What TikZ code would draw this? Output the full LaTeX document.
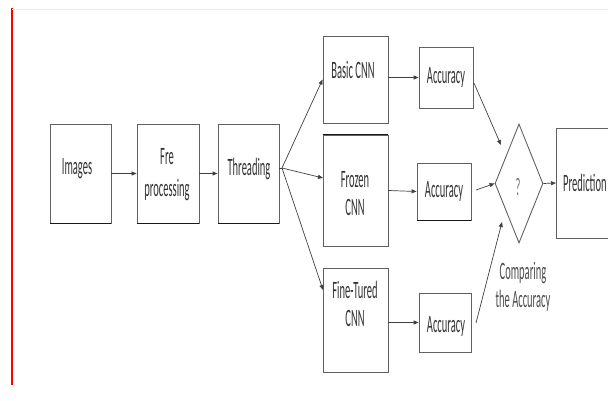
\documentclass[tikz,border=0pt]{standalone}
\usepackage{fontspec}
\setmainfont{Carlito}[FakeStretch=0.42]
\usetikzlibrary{arrows.meta,shapes.geometric}
\begin{document}
\begin{tikzpicture}[x=1pt,y=-1pt,
  box/.style={draw=black!62,line width=0.9pt,fill=white,inner sep=0pt,align=center,font=\fontsize{25}{28}\selectfont,text=black!80},
  edge/.style={draw=black!90,line width=1.4pt},
  conn/.style={draw=black!75,line width=0.7pt,-{Triangle[length=5pt,width=4pt]}},
  lbl/.style={align=center,inner sep=0pt,font=\fontsize{25}{28}\selectfont,text=black!80}]
\useasboundingbox (0,0) rectangle (608,401);
\draw[red,line width=1.2pt] (12,8) -- (12,385);
\draw[black!8,line width=0.6pt] (12,9) -- (608,9);
% boxes
\node[box,minimum width=61pt,minimum height=99pt] (img) at (80.5,173.5) {};
\node[lbl] (imgt) at (77,169) {Images};
\node[box,minimum width=62pt,minimum height=99pt] (pre) at (168,173.5) {};
\node[lbl,font=\fontsize{25}{32}\selectfont] (pret) at (167,175) {Fre\\processing};
\node[box,minimum width=61pt,minimum height=99pt] (thr) at (248.5,173.5) {};
\node[lbl] (thrt) at (249,169) {Threading};
\node[box,minimum width=65pt,minimum height=87pt] (basic) at (355.5,79.5) {};
\node[lbl] (basict) at (353,70) {Basic CNN};
\node[box,minimum width=65pt,minimum height=111pt] (frozen) at (355.5,190.5) {};
\node[lbl] (frozent) at (355,194) {Frozen\\CNN};
\node[box,minimum width=65pt,minimum height=104pt] (fine) at (355.5,320) {};
\node[lbl] (finet) at (355,304) {Fine-Tured\\CNN};
\node[box,minimum width=54pt,minimum height=61pt] (acc1) at (446,77.5) {Accuracy};
\node[box,minimum width=54pt,minimum height=57pt] (acc2) at (444,191.5) {Accuracy};
\node[box,minimum width=52pt,minimum height=59pt] (acc3) at (445,322.5) {};
\node[lbl] (acc3t) at (446,326) {Accuracy};
\node[draw=black!62,line width=0.9pt,diamond,minimum width=48pt,minimum height=119pt,inner sep=0pt] (dec) at (519,183.5) {};
\node[lbl,text=black!55] (dect) at (518,187) {?};
\begin{scope}
\clip (0,0) rectangle (608,401);
\node[box,minimum width=64pt,minimum height=110pt,anchor=west] (pred) at (556,183) {};
\end{scope}
\node[lbl,anchor=west] (predt) at (563,183) {Prediction};
\node[lbl,text=black!70] (cmp) at (523,287) {Comparing\\the Accuracy};
% darker edges
\draw[edge] (img.south west) -- (img.south east);
\draw[edge] (pre.south west) -- (pre.south east);
\draw[edge] (thr.south west) -- (thr.south east);
\draw[edge] (frozen.north west) -- (frozen.north east);
\draw[edge] (acc2.south west) -- (acc2.south east);
% connectors
\draw[conn] (img.east) -- (pre.west);
\draw[conn] (pre.east) -- (thr.west);
\coordinate (tp) at (282,168);
\draw[black!75,line width=0.7pt] (thr.east |- tp) -- (tp);
\draw[conn] (tp) -- (basic.west);
\draw[conn] (tp) -- (323,178);
\draw[conn] (tp) -- (323,290);
\draw[conn] (basic.east |- acc1) -- (acc1.west);
\draw[conn] (frozen.east) -- (acc2.west);
\draw[conn] (fine.east |- acc3) -- (acc3.west);
\coordinate (a1) at (474,83);
\coordinate (a2) at (476,190);
\coordinate (a3) at (476,323);
\draw[conn] (a1) -- (501,145);
\draw[conn] (a2) -- (dec.west);
\draw[conn] (a3) -- (502,222);
\draw[conn] (dec.east) -- (pred.west);
\end{tikzpicture}
\end{document}
